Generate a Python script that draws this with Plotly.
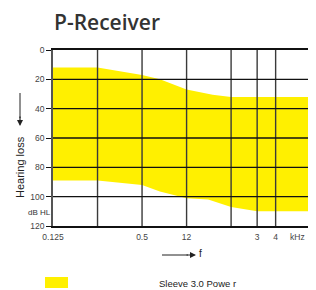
import plotly.graph_objects as go

# data
freq_upper = [0.125, 0.25, 0.5, 0.66, 1.0, 1.5, 2.0, 7.5]
upper_db = [12, 12, 17, 20, 27, 30.5, 32, 32]
freq_lower = [0.125, 0.25, 0.5, 0.66, 1.0, 1.4, 2.0, 3.0, 7.5]
lower_db = [89, 89, 92, 96.5, 101, 102, 107, 110, 110]
series_name = "Sleeve 3.0 Powe r"
grid_freqs = [0.25, 0.5, 1, 2, 3, 4]
x_tickvals = [0.125, 0.5, 1, 3, 4]
x_ticktext = ["0.125", "0.5", "12", "3", "4"]
y_tickvals = [0, 20, 40, 60, 80, 100, 120]
grid_db = [20, 40, 60, 80, 100]

YELLOW = "#FFF000"
FONT = "Liberation Sans"

# plot area in page pixels: x 53..316, y 50..226 (page has an 8px body margin)
def px(xp):
    return (xp - 53) / 263


def py(yp):
    return (226 - yp) / 176


fig = go.Figure()
fig.add_trace(go.Scatter(
    x=freq_upper + freq_lower[::-1],
    y=upper_db + lower_db[::-1],
    fill="toself", fillcolor=YELLOW, mode="lines",
    line=dict(width=0, color=YELLOW), name=series_name,
    showlegend=False, hoverinfo="skip"))

shapes = []
for f in grid_freqs:
    shapes.append(dict(type="line", xref="x", yref="paper", x0=f, x1=f, y0=0, y1=1,
                       line=dict(color="#3a3a3a", width=1.4), layer="above"))
for d in grid_db:
    shapes.append(dict(type="line", xref="paper", yref="y", x0=0, x1=1, y0=d, y1=d,
                       line=dict(color="#111111", width=1.3), layer="above"))
# legend swatch
shapes.append(dict(type="rect", xref="paper", yref="paper", x0=px(45), x1=px(68),
                   y0=py(288), y1=py(277), fillcolor=YELLOW, line=dict(width=0)))
# vertical arrow shaft
shapes.append(dict(type="line", xref="paper", yref="paper", x0=px(20), x1=px(20),
                   y0=py(93), y1=py(118), line=dict(color="#222", width=1)))
# horizontal arrow shaft
shapes.append(dict(type="line", xref="paper", yref="paper", x0=px(162), x1=px(188),
                   y0=py(255), y1=py(255), line=dict(color="#222", width=1)))

annotations = [
    dict(text="P-Receiver", xref="paper", yref="paper", x=px(52), y=py(22), xanchor="left",
         yanchor="middle", showarrow=False,
         font=dict(family="Open Sans", size=21, color="#333", weight=600)),
    dict(text="Hearing loss", xref="paper", yref="paper", x=px(20), y=py(167), textangle=-90,
         xanchor="center", yanchor="middle", showarrow=False,
         font=dict(family=FONT, size=11, color="#222")),
    dict(text="dB HL", xref="paper", yref="paper", x=px(39), y=py(212), xanchor="center",
         yanchor="middle", showarrow=False, font=dict(family=FONT, size=8, color="#333")),
    dict(text="kHz", xref="paper", yref="paper", x=px(297), y=py(237), xanchor="center",
         yanchor="middle", showarrow=False, font=dict(family=FONT, size=8.5, color="#444")),
    dict(text="f", xref="paper", yref="paper", x=px(200), y=py(253), xanchor="center",
         yanchor="middle", showarrow=False, font=dict(family=FONT, size=10, color="#222")),
    dict(text=series_name, xref="paper", yref="paper", x=px(157), y=py(283), xanchor="left",
         yanchor="middle", showarrow=False, font=dict(family=FONT, size=9.5, color="#222")),
    # arrow heads
    dict(x=px(20), y=py(126), ax=0, ay=-11, xref="paper", yref="paper",
         axref="pixel", ayref="pixel", text="", showarrow=True, arrowhead=2,
         arrowsize=1, arrowwidth=1.2, arrowcolor="#222"),
    dict(x=px(196), y=py(255), ax=-11, ay=0, xref="paper", yref="paper",
         axref="pixel", ayref="pixel", text="", showarrow=True, arrowhead=2,
         arrowsize=1, arrowwidth=1.2, arrowcolor="#222"),
]

fig.update_layout(
    width=308, height=282, margin=dict(l=45, r=0, t=42, b=64),
    paper_bgcolor="white", plot_bgcolor="white",
    shapes=shapes, annotations=annotations, showlegend=False,
    xaxis=dict(type="log", range=[-0.9031, 0.875], tickvals=x_tickvals, ticktext=x_ticktext,
               showgrid=False, zeroline=False, showline=True, mirror=True,
               linecolor="#111", linewidth=1.5, ticks="", ticklabelstandoff=2,
               tickfont=dict(family=FONT, size=8.5, color="#444"), layer="above traces"),
    yaxis=dict(range=[120, 0], tickvals=y_tickvals, showgrid=False, zeroline=False,
               showline=True, linecolor="#555", linewidth=1.5, ticks="outside", ticklen=5,
               tickcolor="#111", tickwidth=1.2,
               tickfont=dict(family=FONT, size=8.5, color="#444"), layer="above traces"),
)

fig.write_html("out.html")
